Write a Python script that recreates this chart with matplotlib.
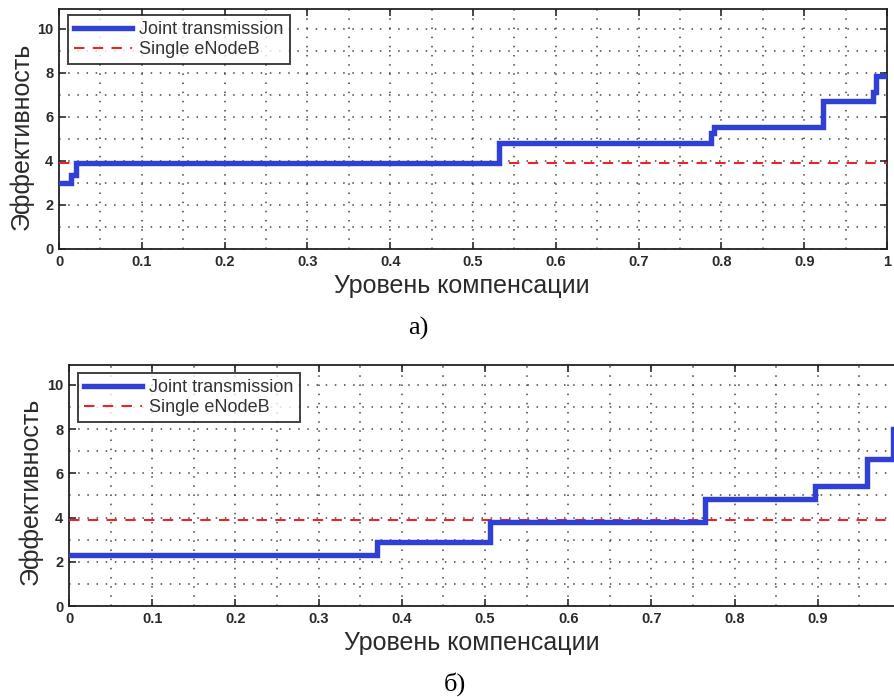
import matplotlib.pyplot as plt
import numpy as np
from matplotlib.ticker import MultipleLocator

plt.rcParams['font.family'] = ['Liberation Sans', 'DejaVu Sans']

# panel a)
a_x = [0, 0.015, 0.02, 0.531, 0.788, 0.791, 0.923, 0.983, 0.987, 1.0]
a_joint = [3.0, 3.35, 3.9, 4.8, 5.25, 5.55, 6.7, 7.15, 7.85, 7.85]
a_single = [3.9, 3.9]

# panel b)
b_x = [0, 0.37, 0.506, 0.764, 0.897, 0.959, 0.99, 1.0]
b_joint = [2.3, 2.9, 3.8, 4.85, 5.45, 6.65, 8.0, 8.0]
b_single = [3.9, 3.9]

x_ticks = [0, 0.1, 0.2, 0.3, 0.4, 0.5, 0.6, 0.7, 0.8, 0.9, 1]
x_ticklabels = ['0', '0.1', '0.2', '0.3', '0.4', '0.5', '0.6', '0.7', '0.8', '0.9', '1']
y_ticks = [0, 2, 4, 6, 8, 10]

W, H = 894, 697
fig = plt.figure(figsize=(W / 100, H / 100), dpi=100)


def panel(rect, x, joint, single, xlabels, xlab_pos, ylab_pos, leg_box):
    ax = fig.add_axes(rect)
    ax.plot([0, 1], single, '--', color='#e8262a', lw=1.5, dashes=(5, 4), zorder=3,
            label='Single eNodeB')
    ax.plot(x, joint, drawstyle='steps-post', color='#3040d4', lw=3.9, zorder=4,
            solid_joinstyle='miter', label='Joint transmission')
    ax.set_xlim(0, 1)
    ax.set_ylim(0, 10.9)
    ax.set_xticks(x_ticks)
    ax.set_xticklabels(xlabels, fontweight='bold')
    ax.set_yticks(y_ticks)
    ax.set_yticklabels([str(v) for v in y_ticks], fontweight='bold')
    ax.xaxis.set_minor_locator(MultipleLocator(0.05))
    ax.yaxis.set_minor_locator(MultipleLocator(1))
    ax.grid(True, which='both', color='#444444', linestyle=(0, (1, 5)), lw=1.1)
    ax.tick_params(which='major', direction='in', length=5, width=1.2,
                   top=True, right=True, labelsize=10.5, pad=4, colors='#2a2a2a')
    ax.tick_params(which='minor', length=0)
    for s in ax.spines.values():
        s.set_linewidth(1.3)
        s.set_color('#222222')
    ax.set_xlabel('Уровень компенсации', fontsize=18, color='#2a2a2a')
    ax.xaxis.set_label_coords(*xlab_pos)
    ax.set_ylabel('Эффективность', fontsize=18, color='#2a2a2a')
    ax.yaxis.set_label_coords(*ylab_pos)
    h, l = ax.get_legend_handles_labels()
    leg = ax.legend(h[::-1], l[::-1], loc='upper left', bbox_to_anchor=leg_box,
                    fontsize=13, frameon=True, fancybox=False, edgecolor='#111111',
                    borderpad=0.35, handlelength=3.2, handletextpad=0.4,
                    labelspacing=0.15, borderaxespad=0)
    leg.get_frame().set_linewidth(1.4)
    leg.set_zorder(10)
    for t in leg.get_texts():
        t.set_color('#333333')
    return ax


ax1 = panel([59 / W, 1 - 249 / H, 828 / W, 240 / H], a_x, a_joint, a_single,
            x_ticklabels, (0.486, -0.105), (-0.031, 0.47), (0.011, 0.975))
# the right end of panel b) is cut by the picture edge, so its "1" is not shown
ax2 = panel([69 / W, 1 - 606 / H, 832 / W, 241 / H], b_x, b_joint, b_single,
            x_ticklabels[:-1] + [''], (0.484, -0.105), (-0.032, 0.477), (0.011, 0.967))

fig.text(0.468, 0.529, 'а)', fontsize=19, family='Liberation Serif',
         ha='center', va='center')
fig.text(0.509, 0.019, 'б)', fontsize=19, family='Liberation Serif',
         ha='center', va='center')

fig.savefig('out.png', dpi=100)
